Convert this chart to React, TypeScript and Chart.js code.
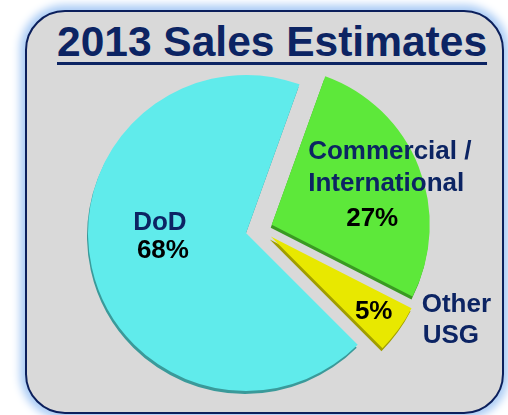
import React, { useEffect, useRef } from 'react';
import { Chart, registerables } from 'chart.js';

Chart.register(...registerables);

const categories = ['DoD', 'Commercial / International', 'Other USG'];
const shares = [68, 27, 5];
const percentLabels = ['68%', '27%', '5%'];
const nameLines = [['DoD'], ['Commercial /', 'International'], ['Other', 'USG']];

const faceColors = ['#60EBEB', '#5DE83A', '#E8E800'];
const edgeColors = ['#3A9A9A', '#3A9A22', '#A09E00'];
const NAVY = '#0C2463';
const FONT = 'bold 26px "Liberation Sans", Arial, sans-serif';

// how far each slice is pulled out, and a small turn of the pull direction (deg)
const explodeDist = [0, 27, 25];
const explodeTurn = [0, 4, -28];

// label placement relative to each slice's centre point
const nameOffsets = [
  [[-9, -27]],
  [[-37, -44], [-37, -12]],
  [[87, 22], [88, 53]],
];
const nameAlign: CanvasTextAlign[] = ['center', 'left', 'left'];
const pctOffsets = [[-6, 1], [27, 23], [39, 29]];

const shift = (arc: any, i: number) => {
  const mid = (arc.startAngle + arc.endAngle) / 2 + (explodeTurn[i] * Math.PI) / 180;
  return { dx: Math.cos(mid) * explodeDist[i], dy: Math.sin(mid) * explodeDist[i] };
};

const explodedPie = {
  id: 'explodedPie',
  beforeDatasetsDraw(chart: any) {
    const ctx = chart.ctx;
    const meta = chart.getDatasetMeta(0);
    meta.data.forEach((arc: any, i: number) => {
      const { dx, dy } = shift(arc, i);
      const saved = arc.options;
      ctx.save();
      ctx.translate(dx - 1, dy + 3);
      arc.options = { ...saved, backgroundColor: edgeColors[i] };
      arc.draw(ctx);
      arc.options = saved;
      ctx.restore();
      ctx.save();
      ctx.translate(dx, dy);
      arc.draw(ctx);
      ctx.restore();
    });
    return false;
  },
  afterDraw(chart: any) {
    const ctx = chart.ctx;
    const meta = chart.getDatasetMeta(0);
    ctx.save();
    ctx.font = FONT;
    ctx.textBaseline = 'middle';
    meta.data.forEach((arc: any, i: number) => {
      const { dx, dy } = shift(arc, i);
      const p = arc.getCenterPoint();
      const ax = p.x + dx;
      const ay = p.y + dy;
      ctx.fillStyle = NAVY;
      ctx.textAlign = nameAlign[i];
      nameLines[i].forEach((line, j) => {
        ctx.fillText(line, ax + nameOffsets[i][j][0], ay + nameOffsets[i][j][1]);
      });
      ctx.fillStyle = '#000';
      ctx.textAlign = 'center';
      ctx.fillText(percentLabels[i], ax + pctOffsets[i][0], ay + pctOffsets[i][1]);
    });
    ctx.restore();
  },
};

const SalesPie: React.FC = () => {
  const ref = useRef<HTMLCanvasElement | null>(null);

  useEffect(() => {
    if (!ref.current) return;
    const chart = new Chart(ref.current, {
      type: 'pie',
      data: {
        labels: categories,
        datasets: [
          {
            data: shares,
            backgroundColor: faceColors,
            borderWidth: 0,
          },
        ],
      },
      options: {
        animation: false,
        responsive: true,
        maintainAspectRatio: false,
        devicePixelRatio: 1,
        events: [],
        rotation: 135,
        radius: 158,
        layout: { padding: { left: 0, right: 16, top: 51, bottom: 0 } },
        plugins: {
          legend: { display: false },
          tooltip: { enabled: false },
        },
      },
      plugins: [explodedPie],
    });
    return () => chart.destroy();
  }, []);

  return (
    <div style={{ position: 'fixed', left: 0, top: 0, width: 508, height: 415, background: '#fff', overflow: 'hidden' }}>
      <div
        style={{
          position: 'absolute',
          left: 25,
          top: 10,
          width: 479,
          height: 404,
          boxSizing: 'border-box',
          border: '2px solid #0B1F5C',
          borderRadius: 40,
          background: '#D9D9D9',
          boxShadow: '0 0 8px 5px #A9CBF5',
        }}
      />
      <div
        style={{
          position: 'absolute',
          left: 57,
          top: 21,
          whiteSpace: 'nowrap',
          font: 'bold 42.5px "Liberation Sans", Arial, sans-serif',
          lineHeight: '42px',
          color: NAVY,
          textDecoration: 'underline',
          textDecorationThickness: '3px',
          textUnderlineOffset: '6px',
        }}
      >
        2013 Sales Estimates
      </div>
      <div style={{ position: 'absolute', left: 0, top: 0, width: 508, height: 415 }}>
        <canvas ref={ref} />
      </div>
    </div>
  );
};

export default function App() {
  return <SalesPie />;
}
